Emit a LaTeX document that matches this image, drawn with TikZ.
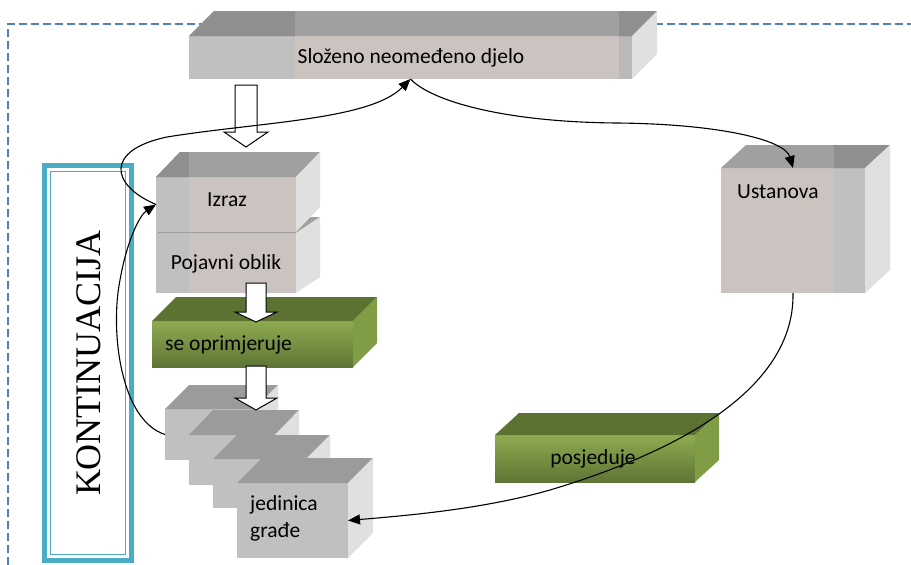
\documentclass[tikz,border=0pt]{standalone}
\usepackage{fontspec}
\setmainfont{Carlito}
\newfontfamily\kontfont{Liberation Serif}
\usetikzlibrary{calc,arrows.meta}
\definecolor{frontgray}{HTML}{C0C0C0}
\definecolor{frontpink}{HTML}{CBC3C0}
\definecolor{topgray}{HTML}{A0A0A0}
\definecolor{topdark}{HTML}{8F8F8F}
\definecolor{sidegray}{HTML}{E0E0E0}
\definecolor{stripe}{HTML}{B9B9B9}
\definecolor{stacktop}{HTML}{9B9B9B}
\definecolor{greenlight}{HTML}{8EAB50}
\definecolor{greendark}{HTML}{5E7535}
\definecolor{greentop}{HTML}{5C7232}
\definecolor{greenside}{HTML}{7F9D45}
\definecolor{kontblue}{HTML}{4BACC6}
\definecolor{dashblue}{HTML}{4F81BD}
\newcommand{\topfacepath}[3]{(#1.north west) -- ++(#2,#3) -- ($(#1.north east)+(#2,#3)$) -- (#1.north east) -- cycle}
\newcommand{\sidefacepath}[3]{(#1.north east) -- ++(#2,#3) -- ($(#1.south east)+(#2,#3)$) -- (#1.south east) -- cycle}
\newcommand{\blockarr}[6]{\draw[blockarrow] (#1-#5,#2) -- (#1+#5,#2) -- (#1+#5,#3) -- (#1+#6,#3) -- (#1,#4) -- (#1-#6,#3) -- (#1-#5,#3) -- cycle;}
\begin{document}
\begin{tikzpicture}[x=1pt,y=-1pt,
  face/.style={inner sep=0pt, outer sep=0pt, anchor=north west},
  lbl/.style={inner sep=0pt, font=\fontsize{21.5}{27}\selectfont},
  blockarrow/.style={fill=white, draw=black, line width=1pt, line join=miter},
  conn/.style={line width=1.1pt, -{Triangle[length=12pt,width=10pt]}},
  greenfront/.style={top color=greenlight, bottom color=greendark},
]
\useasboundingbox (0,0) rectangle (911,565);
% dashed frame
\draw[dashblue, line width=1.2pt, dash pattern=on 8pt off 4pt] (8,565) -- (8,24) -- (911,24);

% top box
\node[face, minimum width=443pt, minimum height=43pt, fill=frontpink,
  path picture={\fill[frontgray] (path picture bounding box.north west) rectangle ([xshift=106pt]path picture bounding box.south west);
    \fill[stripe] ([xshift=-13pt]path picture bounding box.north east) rectangle (path picture bounding box.south east);}]
  (top) at (189,36) {};
\fill[topgray] \topfacepath{top}{25}{-25};
\begin{scope}
  \clip \topfacepath{top}{25}{-25};
  \fill[topdark] (189,0) rectangle (295,40);
  \fill[topdark] (619,0) rectangle (660,40);
\end{scope}
\fill[sidegray] \sidefacepath{top}{25}{-25};
\node[lbl] (toplbl) at (411,58) {Složeno neomeđeno djelo};

% Ustanova
\node[face, minimum width=144pt, minimum height=125pt, fill=frontpink,
  path picture={\fill[frontgray] ([xshift=-31pt]path picture bounding box.north east) rectangle (path picture bounding box.south east);}]
  (ustanova) at (721,168) {};
\fill[topgray] \topfacepath{ustanova}{25}{-23};
\begin{scope}
  \clip \topfacepath{ustanova}{25}{-23};
  \fill[topdark] (834,140) rectangle (895,170);
\end{scope}
\fill[sidegray] \sidefacepath{ustanova}{25}{-23};
\node[lbl, anchor=west] (ustlbl) at (737,192) {Ustanova};

% Pojavni oblik
\node[face, minimum width=140pt, minimum height=60pt, fill=frontpink,
  path picture={\fill[frontgray] (path picture bounding box.north west) rectangle ([xshift=33pt]path picture bounding box.south west);}]
  (pojavni) at (156,233) {};
\fill[topgray] \topfacepath{pojavni}{24}{-16};
\fill[sidegray] \sidefacepath{pojavni}{24}{-16};
\node[lbl] (pojlbl) at (226,264) {Pojavni oblik};

% Izraz
\node[face, minimum width=140pt, minimum height=55pt, fill=frontpink,
  path picture={\fill[frontgray] (path picture bounding box.north west) rectangle ([xshift=33pt]path picture bounding box.south west);}]
  (izraz) at (156,177) {};
\fill[topgray] \topfacepath{izraz}{24}{-25};
\begin{scope}
  \clip \topfacepath{izraz}{24}{-25};
  \fill[topdark] (150,140) rectangle (189,180);
\end{scope}
\fill[sidegray] \sidefacepath{izraz}{24}{-25};
\node[lbl] (izrlbl) at (227,200) {Izraz};

% se oprimjeruje
\node[face, minimum width=201pt, minimum height=46pt, greenfront] (oprim) at (152,321) {};
\fill[greentop] \topfacepath{oprim}{24}{-24};
\fill[greenside] \sidefacepath{oprim}{24}{-24};
\node[lbl, anchor=west] (oprimlbl) at (165,345) {se oprimjeruje};

% posjeduje
\node[face, minimum width=200pt, minimum height=47pt, greenfront] (posj) at (495,435) {};
\fill[greentop] \topfacepath{posj}{24}{-22};
\fill[greenside] \sidefacepath{posj}{24}{-22};
\node[lbl] (posjlbl) at (593,459) {posjeduje};

% stack of units
\node[face, minimum width=89pt, minimum height=51pt, fill=frontgray] (b1) at (165,409) {};
\fill[stacktop] \topfacepath{b1}{24}{-24};
\fill[sidegray] \sidefacepath{b1}{24}{-24};
\node[face, minimum width=86pt, minimum height=50pt, fill=frontgray] (b2) at (189,435) {};
\fill[stacktop] \topfacepath{b2}{24}{-25};
\fill[sidegray] \sidefacepath{b2}{24}{-25};
\node[face, minimum width=93pt, minimum height=49pt, fill=frontgray] (b3) at (213,459) {};
\fill[stacktop] \topfacepath{b3}{24}{-24};
\fill[sidegray] \sidefacepath{b3}{24}{-24};
\node[face, minimum width=111pt, minimum height=75pt, fill=frontgray] (jed) at (237,483) {};
\fill[stacktop] \topfacepath{jed}{25}{-25};
\fill[sidegray] \sidefacepath{jed}{25}{-25};
\node[lbl, anchor=west, align=left] (jedlbl) at (250,518.5) {jedinica\\građe};

% block arrows
\blockarr{246}{85}{132}{147}{11}{22}
\blockarr{256}{283}{312}{322}{10}{21}
\blockarr{256}{366}{398}{410}{10}{21}

% KONTINUACIJA
\node[face, draw=kontblue, line width=5pt, minimum width=87pt, minimum height=395pt] (kont) at (44.5,165.5) {};
\draw[kontblue, line width=1pt] ([shift={(6,6)}]kont.north west) rectangle ([shift={(-6,-6)}]kont.south east);
\node[rotate=90, inner sep=0pt, font=\kontfont\fontsize{36}{36}\selectfont] (kontlbl) at (89,363) {KONTINUACIJA};

% connectors
\draw[conn] (izraz.west) .. controls (110,185) and (105,150) .. (167,137)
  .. controls (260,122) and (370,120) .. (top.south);
\draw[conn] (top.south) .. controls (430,100) and (500,122) .. (617,123)
  .. controls (720,124) and (785,140) .. (ustanova.north);
\draw[conn] (ustanova.south) .. controls (795,400) and (650,460) .. (550,490)
  .. controls (480,510) and (400,516) .. (jed.east);
\draw[conn] (b1.west) .. controls (120,420) and (110,330) .. (120,280)
  .. controls (127,240) and (140,215) .. (izraz.west);
\end{tikzpicture}
\end{document}
